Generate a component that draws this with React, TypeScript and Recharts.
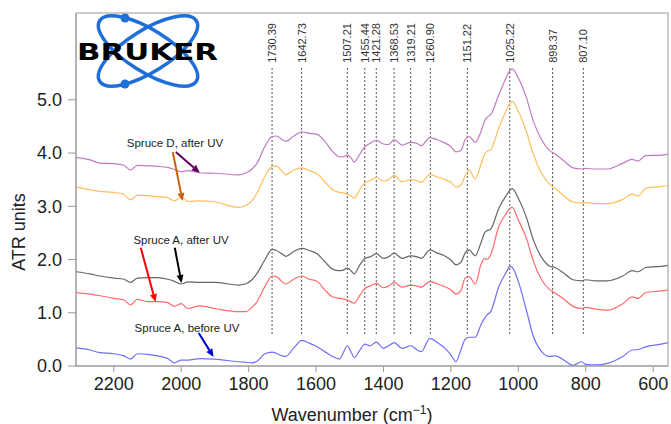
import React from 'react';
import { LineChart, Line, XAxis, YAxis, ReferenceLine } from 'recharts';

// wavenumber grid (cm-1), high to low
const wavenumbers = [
  2312, 2270, 2241, 2200, 2170, 2150, 2130, 2100, 2070, 2040,
  2020, 2000, 1980, 1945, 1900, 1830, 1810, 1790, 1775, 1752,
  1730, 1718, 1700, 1690, 1666, 1642, 1620, 1597, 1574, 1551,
  1530, 1520, 1507, 1495, 1487, 1470, 1455, 1440, 1421, 1400,
  1385, 1368, 1345, 1319, 1300, 1288, 1262, 1240, 1222, 1200,
  1185, 1170, 1158, 1146, 1128, 1111, 1100, 1093, 1082, 1058,
  1035, 1025, 1018, 1000, 977, 955, 931, 908, 891, 862,
  838, 812, 800, 771, 736, 690, 662, 645, 622, 577,
  556,
];

// Spruce D after UV (purple trace)
const spruceDAfter1 = [
  3.92, 3.87, 3.81, 3.80, 3.77, 3.68, 3.77, 3.76, 3.75, 3.73,
  3.69, 3.65, 3.67, 3.63, 3.62, 3.59, 3.62, 3.70, 3.81, 4.12,
  4.31, 4.32, 4.25, 4.22, 4.32, 4.40, 4.37, 4.35, 4.22, 4.03,
  3.93, 3.93, 3.96, 3.90, 3.83, 3.98, 4.12, 4.18, 4.24, 4.17,
  4.16, 4.25, 4.15, 4.20, 4.18, 4.14, 4.29, 4.25, 4.20, 4.12,
  4.02, 4.05, 4.25, 4.31, 4.20, 4.40, 4.60, 4.67, 4.72, 5.09,
  5.43, 5.55, 5.58, 5.41, 5.06, 4.59, 4.25, 4.05, 3.98, 3.84,
  3.72, 3.70, 3.71, 3.70, 3.70, 3.81, 3.88, 3.85, 3.95, 3.96,
  3.98,
];

// Spruce D after UV (orange trace)
const spruceDAfter2 = [
  3.36, 3.31, 3.28, 3.26, 3.22, 3.12, 3.21, 3.20, 3.18, 3.16,
  3.10, 3.17, 3.09, 3.10, 3.08, 2.98, 3.01, 3.10, 3.25, 3.56,
  3.75, 3.76, 3.65, 3.59, 3.68, 3.72, 3.67, 3.61, 3.46, 3.31,
  3.26, 3.25, 3.23, 3.19, 3.15, 3.32, 3.44, 3.48, 3.54, 3.47,
  3.50, 3.58, 3.46, 3.50, 3.48, 3.45, 3.60, 3.55, 3.51, 3.45,
  3.36, 3.40, 3.57, 3.68, 3.51, 3.78, 3.98, 4.03, 4.06, 4.47,
  4.81, 4.93, 4.97, 4.78, 4.42, 3.97, 3.62, 3.42, 3.34, 3.18,
  3.08, 3.06, 3.07, 3.05, 3.05, 3.13, 3.23, 3.19, 3.34, 3.37,
  3.39,
];

// Spruce A after UV (grey trace)
const spruceAAfter1 = [
  1.77, 1.73, 1.69, 1.65, 1.63, 1.57, 1.65, 1.66, 1.66, 1.63,
  1.59, 1.54, 1.58, 1.57, 1.57, 1.52, 1.54, 1.62, 1.74, 1.99,
  2.19, 2.17, 2.10, 2.06, 2.15, 2.21, 2.17, 2.11, 1.96, 1.82,
  1.79, 1.80, 1.84, 1.78, 1.73, 1.90, 2.02, 2.05, 2.11, 2.02,
  2.05, 2.12, 2.02, 2.07, 2.05, 2.02, 2.18, 2.12, 2.08, 1.99,
  1.90, 1.95, 2.12, 2.18, 2.07, 2.31, 2.50, 2.54, 2.57, 2.96,
  3.21, 3.30, 3.33, 3.15, 2.81, 2.36, 2.04, 1.88, 1.85, 1.73,
  1.62, 1.60, 1.62, 1.60, 1.60, 1.69, 1.79, 1.77, 1.85, 1.87,
  1.89,
];

// Spruce A after UV (red trace)
const spruceAAfter2 = [
  1.38, 1.35, 1.32, 1.27, 1.24, 1.15, 1.25, 1.21, 1.21, 1.19,
  1.12, 1.17, 1.08, 1.13, 1.08, 1.02, 1.02, 1.10, 1.21, 1.49,
  1.69, 1.68, 1.58, 1.54, 1.63, 1.69, 1.63, 1.59, 1.43, 1.30,
  1.27, 1.26, 1.24, 1.20, 1.18, 1.33, 1.46, 1.50, 1.55, 1.47,
  1.50, 1.57, 1.48, 1.52, 1.50, 1.48, 1.59, 1.54, 1.50, 1.43,
  1.35, 1.42, 1.65, 1.68, 1.54, 1.90, 2.02, 2.00, 2.09, 2.62,
  2.87, 2.96, 2.98, 2.74, 2.42, 1.96, 1.62, 1.44, 1.37, 1.24,
  1.12, 1.08, 1.10, 1.07, 1.05, 1.17, 1.30, 1.27, 1.38, 1.41,
  1.43,
];

// Spruce A before UV (blue trace)
const spruceABefore = [
  0.34, 0.30, 0.25, 0.23, 0.19, 0.13, 0.23, 0.22, 0.19, 0.14,
  0.06, 0.11, 0.11, 0.14, 0.13, 0.08, 0.07, 0.06, 0.09, 0.23,
  0.26, 0.24, 0.19, 0.18, 0.34, 0.48, 0.43, 0.36, 0.27, 0.18,
  0.13, 0.24, 0.38, 0.25, 0.16, 0.30, 0.41, 0.38, 0.45, 0.33,
  0.38, 0.44, 0.33, 0.38, 0.30, 0.27, 0.52, 0.44, 0.36, 0.21,
  0.08, 0.31, 0.50, 0.54, 0.54, 0.77, 0.90, 0.96, 1.02, 1.49,
  1.77, 1.87, 1.85, 1.59, 1.07, 0.55, 0.27, 0.18, 0.19, 0.10,
  0.01, 0.08, 0.03, 0.02, 0.05, 0.18, 0.30, 0.31, 0.36, 0.41,
  0.44,
];

const peaks = [1730.39, 1642.73, 1507.21, 1455.44, 1421.28, 1368.53, 1319.21, 1260.9, 1151.22, 1025.22, 898.37, 807.1];
const xTicks = [2200, 2000, 1800, 1600, 1400, 1200, 1000, 800, 600];
const yTicks = [0, 1, 2, 3, 4, 5];

const traces = [
  { key: 'aBefore', color: '#6f6ff5' },
  { key: 'aAfter2', color: '#ff6b6b' },
  { key: 'aAfter1', color: '#666666' },
  { key: 'dAfter2', color: '#ffbe5c' },
  { key: 'dAfter1', color: '#c07cc0' },
];

// annotation arrows in data units: [wavenumber, ATR]
const arrows = [
  { from: [2016, 4.02], to: [1945, 3.63], color: '#5e005e' },
  { from: [2025, 4.02], to: [1996, 3.1], color: '#c8640a' },
  { from: [2120, 2.22], to: [2076, 1.2], color: '#ff0000' },
  { from: [2019, 2.22], to: [1999, 1.56], color: '#000000' },
  { from: [1948, 0.62], to: [1904, 0.17], color: '#0000c8' },
];

const notes = [
  { text: 'Spruce D, after UV', x: 175, y: 147 },
  { text: 'Spruce A, after UV', x: 181, y: 244 },
  { text: 'Spruce A, before UV', x: 187, y: 332 },
];

const data = wavenumbers.map((wn, i) => ({
  wn,
  dAfter1: spruceDAfter1[i],
  dAfter2: spruceDAfter2[i],
  aAfter1: spruceAAfter1[i],
  aAfter2: spruceAAfter2[i],
  aBefore: spruceABefore[i],
}));

const FONT = '"Liberation Sans", Arial, sans-serif';
const AXIS = '#9a9a9a';

const arrowShape = (color: string) => (p: any) => {
  const { x1, y1, x2, y2 } = p;
  const a = Math.atan2(y2 - y1, x2 - x1);
  const len = 8;
  const half = 3.5;
  const bx = x2 - len * Math.cos(a);
  const by = y2 - len * Math.sin(a);
  const pts = `${x2},${y2} ${bx - half * Math.sin(a)},${by + half * Math.cos(a)} ${bx + half * Math.sin(a)},${by - half * Math.cos(a)}`;
  return (
    <g>
      <line x1={x1} y1={y1} x2={bx} y2={by} stroke={color} strokeWidth={2} />
      <polygon points={pts} fill={color} />
    </g>
  );
};

const peakLabel = (value: number) => (p: any) => {
  const vb = p.viewBox || {};
  const x = (vb.x ?? 0) + 4;
  const y = (vb.y ?? 0) - 5;
  return (
    <text x={x} y={y} transform={`rotate(-90, ${x}, ${y})`} fontSize={11} fontFamily={FONT} fill="#333">
      {value.toFixed(2)}
    </text>
  );
};

const Logo = () => (
  <g>
    <ellipse cx={148} cy={51} rx={57} ry={21} transform="rotate(32 148 51)" fill="none" stroke="#1f6fd8" strokeWidth={3.5} />
    <ellipse cx={148} cy={51} rx={57} ry={21} transform="rotate(-32 148 51)" fill="none" stroke="#1f6fd8" strokeWidth={3.5} />
    <circle cx={125} cy={18} r={4.5} fill="#1f6fd8" />
    <circle cx={125} cy={84} r={4.5} fill="#1f6fd8" />
    <text x={77} y={60} fontSize={23} fontWeight="bold" fontFamily='"DejaVu Sans", sans-serif' textLength={141} lengthAdjust="spacingAndGlyphs" fill="#000">
      BRUKER
    </text>
  </g>
);

export default function App() {
  return (
    <div style={{ position: 'absolute', left: 0, top: 0, width: 671, height: 424, background: '#fff' }}>
      <LineChart width={671} height={424} data={data} margin={{ top: 13, right: 3, bottom: 0, left: 0 }}>
        <XAxis
          dataKey="wn"
          type="number"
          domain={[556, 2312]}
          reversed
          allowDataOverflow
          ticks={xTicks}
          height={58}
          stroke={AXIS}
          tickSize={6}
          tickMargin={5}
          tick={{ fill: '#222', fontSize: 18, fontFamily: FONT }}
          label={{
            content: () => (
              <text x={352} y={421} textAnchor="middle" fontSize={18} fontFamily={FONT} fill="#222">
                Wavenumber (cm
                <tspan dy={-7} fontSize={12}>−1</tspan>
                <tspan dy={7}>)</tspan>
              </text>
            ),
          }}
        />
        <YAxis
          type="number"
          domain={[0, 6.63]}
          allowDataOverflow
          ticks={yTicks}
          width={76}
          stroke={AXIS}
          tickSize={8}
          tickMargin={6}
          tickFormatter={(v: number) => v.toFixed(1)}
          tick={{ fill: '#222', fontSize: 18, fontFamily: FONT }}
          label={{
            content: () => (
              <text x={25} y={232} transform="rotate(-90, 25, 232)" textAnchor="middle" fontSize={18} fontFamily={FONT} fill="#222">
                ATR units
              </text>
            ),
          }}
        />

        {peaks.map((p) => (
          <ReferenceLine
            key={p}
            segment={[{ x: p, y: 0.6 }, { x: p, y: 5.6 }]}
            stroke="#555"
            strokeDasharray="2 2"
            strokeWidth={1}
            label={peakLabel(p)}
          />
        ))}

        {traces.map((t) => (
          <Line
            key={t.key}
            dataKey={t.key}
            type="monotone"
            stroke={t.color}
            strokeWidth={1.2}
            dot={false}
            activeDot={false}
            isAnimationActive={false}
          />
        ))}

        {arrows.map((a, i) => (
          <ReferenceLine
            key={i}
            segment={[{ x: a.from[0], y: a.from[1] }, { x: a.to[0], y: a.to[1] }]}
            shape={arrowShape(a.color)}
          />
        ))}
      </LineChart>
      <svg width={671} height={424} style={{ position: 'absolute', left: 0, top: 0, pointerEvents: 'none' }}>
        <rect x={76} y={13} width={592} height={353} fill="none" stroke={AXIS} strokeWidth={1} />
        <Logo />
        {notes.map((n) => (
          <text key={n.text} x={n.x} y={n.y} textAnchor="middle" fontSize={11.5} fontFamily={FONT} fill="#222">
            {n.text}
          </text>
        ))}
      </svg>
    </div>
  );
}
